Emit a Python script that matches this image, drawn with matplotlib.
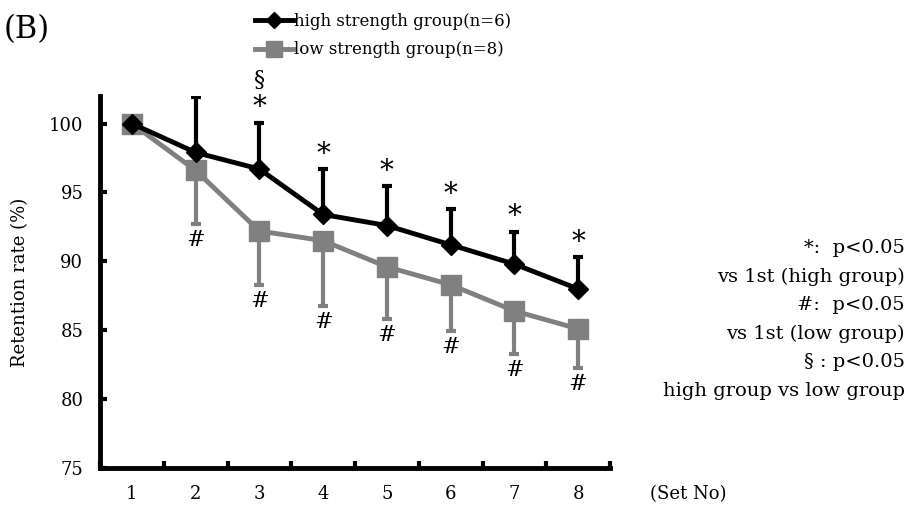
import numpy as np
import matplotlib
matplotlib.use("Agg")
import matplotlib.pyplot as plt
from matplotlib.ticker import MultipleLocator
from matplotlib.lines import Line2D

plt.rcParams['font.family'] = ['DejaVu Serif']

# data
sets = [1, 2, 3, 4, 5, 6, 7, 8]
high_mean = [100.0, 97.9, 96.7, 93.4, 92.6, 91.2, 89.8, 88.0]
high_sd = [0.0, 4.0, 3.35, 3.3, 2.85, 2.6, 2.35, 2.3]
low_mean = [100.0, 96.6, 92.2, 91.5, 89.6, 88.3, 86.4, 85.1]
low_sd = [0.0, 3.9, 3.9, 4.75, 3.8, 3.35, 3.15, 2.85]
high_sig = [False, False, True, True, True, True, True, True]
low_sig = [False, True, True, True, True, True, True, True]
between_sig = [False, False, True, False, False, False, False, False]
y_ticks = [75, 80, 85, 90, 95, 100]

GRAY = '#808080'

fig = plt.figure(figsize=(9.1, 5.09), dpi=100)
ax = fig.add_axes([100 / 910, 1 - 468 / 509, 510 / 910, 372 / 509])

x = np.array(sets)
# low group (gray) under, one-sided error bars downward
ax.errorbar(x, low_mean, yerr=[low_sd, np.zeros(len(low_sd))], color=GRAY,
            lw=3.5, elinewidth=3, capsize=3.5, capthick=3, marker='s', ms=14,
            zorder=2)
ax.errorbar(x, high_mean, yerr=[np.zeros(len(high_sd)), high_sd], color='black',
            lw=3.5, elinewidth=3, capsize=3.5, capthick=3, marker='D', ms=10,
            zorder=3)

# significance marks
for i in range(len(sets)):
    if high_sig[i]:
        ax.text(x[i], high_mean[i] + high_sd[i] + 0.1, '*', ha='center', va='bottom',
                fontsize=20)
    if low_sig[i]:
        ax.text(x[i], low_mean[i] - low_sd[i] - 0.35, '#', ha='center', va='top',
                fontsize=16)
    if between_sig[i]:
        ax.text(x[i], high_mean[i] + high_sd[i] + 2.3, '§', ha='center', va='bottom',
                fontsize=16)

ax.set_xlim(0.5, 8.5)
ax.set_ylim(75, 102)
ax.set_xticks(sets)
ax.xaxis.set_minor_locator(MultipleLocator(1, offset=0.5))
ax.set_yticks(y_ticks)
ax.tick_params(axis='x', which='major', length=0, labelsize=13, pad=12)
ax.tick_params(axis='x', which='minor', direction='in', length=5, width=3)
ax.tick_params(axis='y', which='major', direction='in', length=5, width=3,
               labelsize=13, pad=12)
for s in ['top', 'right']:
    ax.spines[s].set_visible(False)
for s in ['left', 'bottom']:
    ax.spines[s].set_linewidth(3.5)
ax.patch.set_alpha(0)

ax.set_ylabel('Retention rate (%)', fontsize=13, labelpad=14)
fig.text(650 / 910, 1 - 494 / 509, '(Set No)', fontsize=13, va='center')
fig.text(4 / 910, 1 - 30 / 509, '(B)', fontsize=22, va='center')

handles = [Line2D([], [], color='black', lw=3.5, marker='D', ms=8),
           Line2D([], [], color=GRAY, lw=3.5, marker='s', ms=11)]
labels = ['high strength group(n=6)', 'low strength group(n=8)']
fig.legend(handles, labels, loc='upper left',
           bbox_to_anchor=(248 / 910, 1 - 6 / 509), frameon=False,
           fontsize=12, handlelength=2.3, handletextpad=0.05,
           labelspacing=0.7, borderaxespad=0)

notes = ['*:  p<0.05', 'vs 1st (high group)', '#:  p<0.05',
         'vs 1st (low group)', '§ : p<0.05', 'high group vs low group']
for k, t in enumerate(notes):
    fig.text(905 / 910, 1 - (248 + k * 28.6) / 509, t, ha='right', va='center',
             fontsize=14)

fig.savefig('out.png', dpi=100)
